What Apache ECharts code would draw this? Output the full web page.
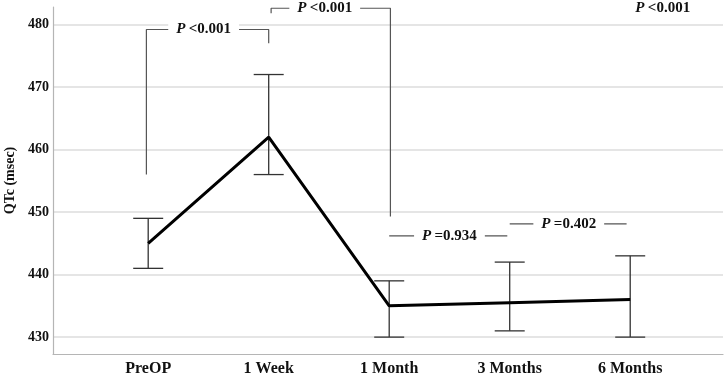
<!DOCTYPE html>
<html>
<head>
<meta charset="utf-8">
<script src="https://cdn.jsdelivr.net/npm/echarts@6/dist/echarts.min.js"></script>
<style>
  html, body { margin: 0; padding: 0; background: #fff; }
  #chart { width: 726px; height: 376px; }
</style>
</head>
<body>
<div id="chart"></div>
<script>
const categories = ['PreOP', '1 Week', '1 Month', '3 Months', '6 Months']
const means = [445, 462, 435, 435.5, 436]
const lower = [441, 456, 430, 431, 430]
const upper = [449, 472, 439, 442, 443]
const yTicks = [430, 440, 450, 460, 470, 480]

// significance brackets, in data units [x, y]
const brackets = [
  [[0.985, 456], [0.985, 479.2], [2.0, 479.2], [2.0, 477]],
  [[2.02, 481.8], [2.02, 482.6], [3.01, 482.6], [3.01, 449.3]],
  [[3.0, 446.2], [3.98, 446.2]],
  [[4.0, 448.1], [4.97, 448.1]],
]
const pLabelX = [1.46, 2.465, 3.5, 4.49, 5.27]
const pLabelY = [479.2, 482.6, 446.2, 448.1, 482.7]
const pLabelOp = ['<0.001', '<0.001', '=0.934', '=0.402', '<0.001']

const chart = echarts.init(document.getElementById('chart'))
const font = 'Liberation Serif'

const bracketSeries = brackets.map((b) => ({
  type: 'line',
  data: b,
  symbol: 'none',
  silent: true,
  clip: false,
  lineStyle: { color: '#555', width: 1.2 },
  z: 1,
}))

chart.setOption({
  animation: false,
  grid: { left: 53, right: 3, top: 7, bottom: 22, containLabel: false, outerBoundsMode: 'none' },
  xAxis: {
    type: 'value',
    min: 0.21,
    max: 5.77,
    axisLine: { show: true, lineStyle: { color: '#b5b5b5', width: 1.2 } },
    axisTick: { show: false },
    splitLine: { show: false },
    axisLabel: {
      customValues: [1, 2, 3, 4, 5],
      formatter: (v) => categories[Math.round(v) - 1],
      margin: 7,
      color: '#111',
      fontFamily: font,
      fontWeight: 'bold',
      fontSize: 16,
    },
  },
  yAxis: {
    type: 'value',
    min: 427.3,
    max: 482.8,
    name: 'QTc (msec)',
    nameLocation: 'middle',
    nameGap: 36,
    nameTextStyle: { fontFamily: font, fontWeight: 'bold', fontSize: 14, color: '#111' },
    axisLine: { show: true, lineStyle: { color: '#b5b5b5', width: 1.2 } },
    axisTick: { show: false, customValues: yTicks },
    axisLabel: {
      customValues: yTicks,
      margin: 4,
      color: '#111',
      fontFamily: font,
      fontWeight: 'bold',
      fontSize: 14,
    },
    splitLine: { show: true, lineStyle: { color: '#dcdcdc', width: 1.5 } },
  },
  series: [
    ...bracketSeries,
    {
      type: 'scatter',
      symbolSize: 0,
      silent: true,
      z: 3,
      itemStyle: { opacity: 1 },
      data: pLabelX.map((x, i) => [x, pLabelY[i], pLabelOp[i]]),
      label: {
        show: true,
        position: 'inside',
        opacity: 1,
        backgroundColor: '#fff',
        padding: [2, 8],
        formatter: (p) => '{p|P} {t|' + p.value[2] + '}',
        rich: {
          p: { fontFamily: font, fontWeight: 'bold', fontStyle: 'italic', fontSize: 15, color: '#111' },
          t: { fontFamily: font, fontWeight: 'bold', fontSize: 15, color: '#111' },
        },
      },
    },
    {
      type: 'custom',
      silent: true,
      z: 4,
      data: categories.map((c, i) => [i + 1, lower[i], upper[i]]),
      renderItem: (params, api) => {
        const lo = api.coord([api.value(0), api.value(1)])
        const hi = api.coord([api.value(0), api.value(2)])
        const hw = 15
        const style = { stroke: '#333', lineWidth: 1.3 }
        return {
          type: 'group',
          children: [
            { type: 'line', shape: { x1: lo[0], y1: lo[1], x2: hi[0], y2: hi[1] }, style },
            { type: 'line', shape: { x1: lo[0] - hw, y1: lo[1], x2: lo[0] + hw, y2: lo[1] }, style },
            { type: 'line', shape: { x1: hi[0] - hw, y1: hi[1], x2: hi[0] + hw, y2: hi[1] }, style },
          ],
        }
      },
    },
    {
      type: 'line',
      data: means.map((m, i) => [i + 1, m]),
      symbol: 'none',
      silent: true,
      z: 5,
      lineStyle: { color: '#000', width: 3 },
    },
  ],
})
</script>
</body>
</html>
